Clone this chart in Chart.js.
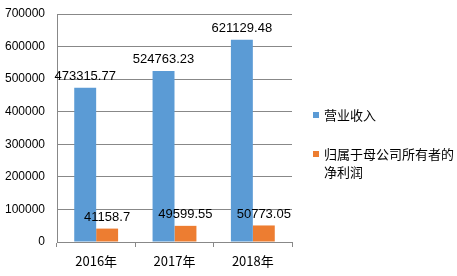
<!DOCTYPE html>
<html>
<head>
<meta charset="utf-8">
<script src="https://cdn.jsdelivr.net/npm/chart.js@4/dist/chart.umd.min.js"></script>
<style>
  html, body { margin: 0; padding: 0; background: #fff; }
  #wrap { width: 457px; height: 276px; }
</style>
</head>
<body>
<div id="wrap"><canvas id="myChart" width="457" height="276"></canvas></div>
<script>
// data
var years = ["2016年", "2017年", "2018年"];
var revenue = [473315.77, 524763.23, 621129.48];
var netProfit = [41158.7, 49599.55, 50773.05];
var seriesNames = ["营业收入", ["归属于母公司所有者的", "净利润"]];
var colors = ["#5B9BD5", "#ED7D31"];

var numFont = "Liberation Sans, Arial, sans-serif";
var cjkFont = "'Noto Sans CJK SC', sans-serif";

// value labels on top of every bar
var valueLabels = {
  id: "valueLabels",
  afterDatasetsDraw: function (chart) {
    var ctx = chart.ctx;
    ctx.save();
    ctx.font = "13px " + numFont;
    ctx.fillStyle = "#000";
    ctx.textAlign = "center";
    ctx.textBaseline = "bottom";
    chart.data.datasets.forEach(function (ds, i) {
      chart.getDatasetMeta(i).data.forEach(function (bar, j) {
        ctx.fillText(String(ds.data[j]), bar.x, bar.y - 5);
      });
    });
    ctx.restore();
  }
};

// legend on the right, second label wraps on two lines
var sideLegend = {
  id: "sideLegend",
  afterDraw: function (chart) {
    var ctx = chart.ctx;
    var ys = [115, 154];
    ctx.save();
    ctx.font = "13px " + cjkFont;
    ctx.textBaseline = "middle";
    ctx.textAlign = "left";
    seriesNames.forEach(function (name, i) {
      ctx.fillStyle = colors[i];
      ctx.fillRect(313, ys[i] - 3, 6, 6);
      ctx.fillStyle = "#000";
      var lines = Array.isArray(name) ? name : [name];
      lines.forEach(function (t, k) {
        ctx.fillText(t, 324, ys[i] + k * 18);
      });
    });
    ctx.restore();
  }
};

const config = {
  type: "bar",
  data: {
    labels: years,
    datasets: [
      { label: "营业收入", data: revenue, backgroundColor: colors[0] },
      { label: "归属于母公司所有者的净利润", data: netProfit, backgroundColor: colors[1] }
    ]
  },
  options: {
    responsive: false,
    animation: false,
    layout: { padding: { left: 0, right: 165, top: 14, bottom: 0 } },
    plugins: { legend: { display: false }, tooltip: { enabled: false } },
    datasets: { bar: { categoryPercentage: 0.56, barPercentage: 1 } },
    scales: {
      x: {
        grid: { display: true, drawOnChartArea: false, color: "#888", tickLength: 5, offset: true },
        border: { color: "#888" },
        ticks: { color: "#000", font: { size: 13, family: cjkFont }, padding: 6 },
        afterFit: function (s) { s.height = 34; }
      },
      y: {
        min: 0,
        max: 700000,
        ticks: {
          stepSize: 100000,
          color: "#000",
          font: { size: 12, family: numFont },
          padding: 12,
          callback: function (v) { return String(v); }
        },
        grid: { color: "#888", drawTicks: false },
        border: { color: "#888" },
        afterFit: function (s) { s.width = 57; s.paddingTop = 0; s.paddingBottom = 0; }
      }
    }
  },
  plugins: [valueLabels, sideLegend]
};

const myChart = new Chart(document.getElementById("myChart"), config);
</script>
</body>
</html>
